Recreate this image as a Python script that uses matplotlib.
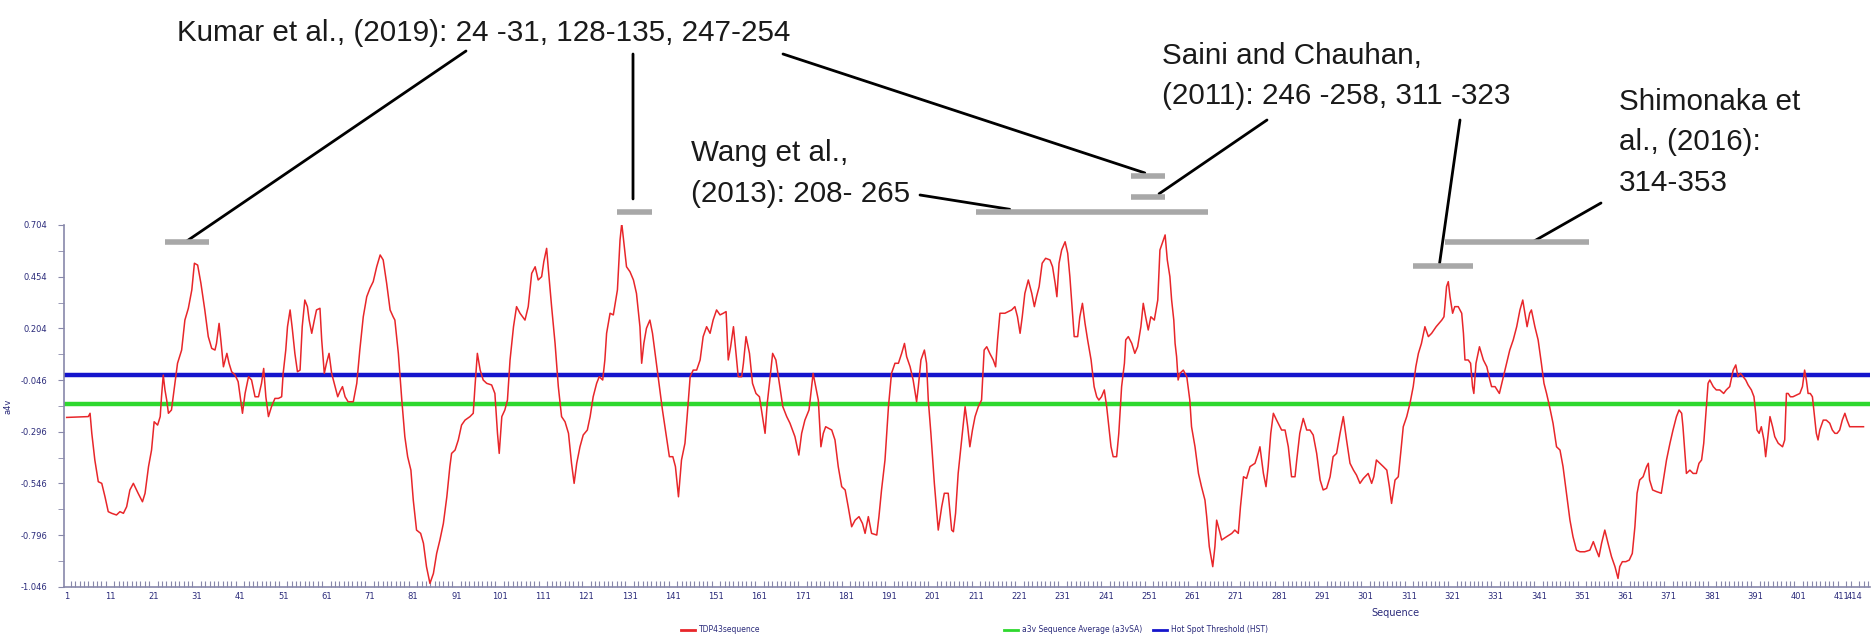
import matplotlib
matplotlib.use("Agg")
import matplotlib.pyplot as plt
import numpy as np

# ---------------- data ----------------
position = [
    1.0, 6.0, 6.4, 6.8, 7.5, 8.3, 9.1, 9.85, 10.6, 11.4, 12.5, 13.3, 14.1, 14.85, 15.6, 16.4, 17.5, 18.5, 19.1, 19.9,
    20.6, 21.2, 22.0, 22.6, 22.9, 23.3, 23.7, 24.1, 24.5, 25.2, 25.9, 26.6, 27.55, 28.3, 29.1, 29.9, 30.5, 31.25, 32.0, 32.9,
    33.7, 34.5, 35.25, 35.6, 36.2, 36.6, 37.2, 38.0, 38.5, 39.1, 39.9, 40.6, 41.3, 41.6, 42.2, 43.0, 43.7, 44.5, 45.3, 46.0,
    46.5, 47.0, 47.6, 48.3, 49.1, 49.9, 50.65, 51.0, 51.6, 52.0, 52.6, 53.1, 53.7, 54.3, 54.9, 55.4, 56.0, 56.6, 57.0, 57.6,
    58.2, 58.7, 59.5, 59.9, 60.5, 61.0, 61.6, 62.2, 63.0, 63.6, 64.1, 64.7, 65.3, 66.0, 67.2, 68.0, 68.7, 69.5, 70.3, 71.05,
    71.8, 72.6, 73.4, 74.1, 74.9, 75.7, 76.4, 76.8, 77.6, 78.4, 79.1, 79.75, 80.5, 81.05, 81.8, 82.75, 83.4, 84.1, 84.9,
    85.7, 86.45, 87.2, 88.0, 88.8, 89.5, 89.9, 90.7, 91.45, 92.2, 93.0, 94.15, 94.9, 95.3, 95.85, 96.5, 97.2, 98.0, 99.15, 99.9,
    100.5, 100.9, 101.5, 102.2, 102.8, 103.4, 104.2, 104.9, 105.7, 106.85, 107.6, 108.4, 109.2, 109.9, 110.7, 111.2, 111.85, 112.2, 113.0, 113.8,
    114.55, 115.3, 116.1, 116.9, 117.6, 118.2, 118.8, 119.55, 120.3, 121.25, 121.9, 122.6, 123.4, 124.0, 124.8, 125.3, 125.7, 126.5, 127.25, 128.2,
    128.8, 129.2, 129.7, 130.3, 131.1, 131.9, 132.6, 133.4, 133.8, 134.3, 134.9, 135.7, 136.3, 137.1, 137.9, 138.6, 139.4, 140.2, 141.0, 141.6,
    142.3, 143.0, 143.8, 144.3, 145.0, 145.7, 146.5, 147.3, 148.0, 148.8, 149.6, 150.3, 151.1, 151.9, 152.65, 153.3, 153.8, 154.35, 155.0, 155.6,
    156.1, 156.9, 157.3, 157.9, 158.7, 159.4, 160.2, 161.0, 161.7, 162.3, 162.8, 163.4, 164.05, 164.8, 165.6, 166.4, 167.3, 168.05, 169.2,
    170.1, 170.75, 171.5, 172.45, 173.4, 174.0, 174.6, 175.2, 175.75, 176.3, 177.7, 178.45, 179.2, 180.0, 180.8, 181.5, 182.3, 183.1, 184.0, 184.8,
    185.4, 186.15, 186.9, 188.1, 188.6, 189.2, 190.0, 190.8, 191.5, 192.3, 193.1, 193.85, 194.5, 195.0, 195.8, 196.5, 197.3, 197.7, 198.3, 199.1,
    199.6, 200.0, 200.6, 201.4, 202.3, 203.1, 203.7, 204.6, 205.4, 205.8, 206.3, 206.9, 207.7, 208.5, 209.1, 209.6, 210.2, 210.8, 211.55, 212.3,
    212.9, 213.5, 214.2, 215.0, 215.55, 216.0, 216.55, 217.7, 219.25, 220.0, 220.6, 221.2, 221.7, 222.3, 223.1, 223.9, 224.5, 225.0, 225.6, 226.3,
    227.1, 228.1, 228.7, 229.3, 229.7, 230.2, 230.8, 231.6, 232.2, 232.7, 233.3, 233.7, 234.5, 235.0, 235.6, 236.2, 236.8, 237.6, 238.3, 238.9,
    239.4, 240.0, 240.65, 241.2, 241.7, 242.2, 242.7, 243.5, 244.0, 244.65, 245.3, 245.6, 246.2, 247.0, 247.7, 248.35, 249.1, 249.65, 250.2, 250.8,
    251.4, 252.2, 253.0, 253.5, 254.3, 254.7, 255.2, 255.8, 256.2, 256.7, 257.0, 257.35, 257.7, 258.1, 258.9, 259.7, 260.4, 260.8, 261.6, 262.4,
    263.1, 263.9, 264.3, 264.9, 265.7, 266.2, 266.6, 267.4, 267.75, 268.9, 270.1, 270.8, 271.6, 272.1, 272.8, 273.5, 274.3, 275.45, 276.2, 276.6,
    277.4, 278.0, 278.5, 279.1, 279.7, 280.45, 281.6, 282.4, 283.15, 283.9, 284.7, 285.1, 285.8, 286.6, 287.4, 288.15, 288.9, 289.7, 290.5, 291.2,
    292.0, 292.8, 293.5, 294.3, 295.1, 295.85, 296.6, 297.4, 298.2, 298.9, 299.7, 300.5, 301.6, 302.4, 302.9, 303.5, 304.3, 305.1, 305.9, 306.5,
    307.0, 307.8, 308.55, 309.1, 309.7, 310.5, 311.25, 312.0, 312.6, 313.2, 313.9, 314.7, 315.5, 316.25, 317.3, 318.6, 319.1, 319.7, 320.1, 320.5,
    321.1, 321.6, 322.4, 323.2, 323.6, 323.95, 324.7, 325.25, 325.7, 326.0, 326.5, 327.3, 328.2, 329.0, 329.7, 330.1, 330.9, 331.9, 332.65, 333.4,
    334.3, 335.1, 335.9, 336.65, 337.3, 337.8, 338.3, 338.9, 339.3, 340.1, 340.85, 341.6, 342.2, 342.8, 343.5, 344.3, 345.1, 345.9, 346.6, 347.4,
    348.2, 348.9, 349.7, 350.5, 351.6, 352.8, 353.6, 354.3, 354.9, 355.5, 356.25, 357.0, 357.8, 358.6, 359.3, 359.7, 360.3, 361.1, 361.9, 362.6,
    363.2, 363.7, 364.3, 365.1, 365.9, 366.3, 366.6, 367.3, 368.2, 369.3, 369.9, 370.5, 371.3, 372.0, 372.8, 373.4, 374.0, 374.3, 374.7, 375.1,
    375.9, 376.65, 377.4, 378.0, 378.6, 379.1, 379.6, 380.1, 380.5, 381.3, 382.0, 382.8, 383.7, 384.3, 385.1, 385.9, 386.5, 387.0, 387.6, 388.2,
    388.8, 389.35, 390.1, 390.7, 391.1, 391.4, 391.9, 392.4, 393.0, 393.4, 394.0, 394.4, 395.0, 395.5, 396.3, 397.3, 397.8, 398.2, 398.6, 399.1,
    399.7, 400.5, 401.3, 401.9, 402.4, 402.8, 403.2, 403.7, 404.2, 404.7, 405.1, 405.5, 405.9, 406.7, 407.4, 408.2, 408.8, 409.4, 409.9, 410.5,
    411.1, 411.7, 412.2, 412.8, 416.0,
]
a4v = [
    -0.227, -0.223, -0.207, -0.304, -0.433, -0.538, -0.546, -0.611, -0.683, -0.691, -0.699, -0.683, -0.691, -0.659, -0.578, -0.546, -0.594, -0.635, -0.594, -0.465,
    -0.385, -0.248, -0.264, -0.223, -0.127, -0.022, -0.094, -0.143, -0.207, -0.191, -0.078, 0.035, 0.099, 0.244, 0.301, 0.390, 0.519, 0.510, 0.422, 0.293,
    0.164, 0.107, 0.099, 0.131, 0.228, 0.148, 0.018, 0.083, 0.035, -0.006, -0.022, -0.054, -0.159, -0.207, -0.111, -0.030, -0.046, -0.127, -0.127, -0.062,
    0.010, -0.127, -0.223, -0.175, -0.135, -0.135, -0.127, -0.014, 0.099, 0.212, 0.293, 0.204, 0.083, -0.006, 0.002, 0.212, 0.341, 0.309, 0.244, 0.180,
    0.244, 0.293, 0.301, 0.148, -0.014, 0.035, 0.083, -0.014, -0.078, -0.127, -0.102, -0.078, -0.127, -0.151, -0.151, -0.062, 0.099, 0.260, 0.357, 0.398,
    0.430, 0.502, 0.559, 0.535, 0.422, 0.293, 0.260, 0.244, 0.083, -0.143, -0.320, -0.417, -0.482, -0.627, -0.772, -0.788, -0.836, -0.949, -1.030,
    -0.982, -0.885, -0.820, -0.740, -0.611, -0.465, -0.401, -0.385, -0.336, -0.264, -0.240, -0.223, -0.207, -0.078, 0.083, 0.002, -0.046, -0.062, -0.070, -0.111,
    -0.304, -0.401, -0.223, -0.191, -0.143, 0.051, 0.212, 0.309, 0.277, 0.244, 0.309, 0.470, 0.502, 0.438, 0.454, 0.527, 0.591, 0.502, 0.309, 0.131,
    -0.078, -0.223, -0.248, -0.304, -0.449, -0.546, -0.449, -0.369, -0.312, -0.288, -0.223, -0.127, -0.062, -0.030, -0.046, 0.051, 0.180, 0.277, 0.269, 0.390,
    0.631, 0.712, 0.615, 0.502, 0.478, 0.438, 0.373, 0.212, 0.035, 0.131, 0.204, 0.244, 0.180, 0.051, -0.078, -0.191, -0.304, -0.417, -0.417, -0.465,
    -0.611, -0.433, -0.352, -0.223, -0.030, 0.002, 0.002, 0.051, 0.164, 0.212, 0.180, 0.244, 0.293, 0.269, 0.277, 0.285, 0.051, 0.115, 0.212, 0.083,
    -0.030, -0.030, 0.035, 0.164, 0.083, -0.062, -0.111, -0.127, -0.223, -0.304, -0.159, -0.046, 0.083, 0.051, -0.062, -0.175, -0.223, -0.255, -0.320,
    -0.409, -0.304, -0.240, -0.191, -0.014, -0.078, -0.143, -0.369, -0.304, -0.272, -0.288, -0.336, -0.465, -0.562, -0.578, -0.659, -0.756, -0.724, -0.707, -0.740,
    -0.788, -0.707, -0.788, -0.796, -0.707, -0.578, -0.433, -0.175, -0.014, 0.035, 0.035, 0.083, 0.131, 0.067, 0.018, -0.046, -0.151, -0.078, 0.051, 0.099,
    0.035, -0.143, -0.304, -0.546, -0.772, -0.659, -0.594, -0.594, -0.772, -0.780, -0.691, -0.498, -0.336, -0.175, -0.272, -0.369, -0.288, -0.223, -0.175, -0.143,
    0.099, 0.115, 0.083, 0.051, 0.018, 0.148, 0.277, 0.277, 0.293, 0.309, 0.260, 0.180, 0.260, 0.373, 0.438, 0.373, 0.309, 0.357, 0.406, 0.519,
    0.543, 0.535, 0.502, 0.422, 0.357, 0.519, 0.583, 0.623, 0.567, 0.454, 0.277, 0.164, 0.164, 0.260, 0.325, 0.228, 0.148, 0.051, -0.078, -0.127,
    -0.143, -0.127, -0.094, -0.175, -0.272, -0.369, -0.417, -0.417, -0.304, -0.078, 0.035, 0.148, 0.164, 0.131, 0.083, 0.115, 0.212, 0.325, 0.260, 0.196,
    0.260, 0.244, 0.341, 0.583, 0.631, 0.656, 0.535, 0.454, 0.341, 0.244, 0.131, 0.067, -0.046, -0.014, 0.002, -0.030, -0.143, -0.272, -0.369, -0.498,
    -0.562, -0.627, -0.707, -0.852, -0.949, -0.852, -0.724, -0.788, -0.820, -0.804, -0.788, -0.772, -0.788, -0.659, -0.514, -0.522, -0.465, -0.449, -0.401, -0.369,
    -0.498, -0.562, -0.465, -0.304, -0.207, -0.240, -0.288, -0.288, -0.369, -0.514, -0.514, -0.433, -0.304, -0.232, -0.288, -0.288, -0.312, -0.401, -0.530, -0.578,
    -0.570, -0.514, -0.417, -0.401, -0.304, -0.223, -0.336, -0.449, -0.482, -0.506, -0.546, -0.522, -0.498, -0.546, -0.514, -0.433, -0.449, -0.465, -0.482, -0.562,
    -0.643, -0.530, -0.514, -0.401, -0.272, -0.223, -0.159, -0.078, 0.018, 0.083, 0.131, 0.212, 0.164, 0.180, 0.212, 0.244, 0.260, 0.406, 0.430, 0.357,
    0.277, 0.309, 0.309, 0.277, 0.180, 0.051, 0.051, 0.035, -0.078, -0.111, 0.035, 0.115, 0.051, 0.018, -0.046, -0.078, -0.078, -0.111, -0.046, 0.018,
    0.099, 0.148, 0.212, 0.293, 0.341, 0.277, 0.212, 0.277, 0.293, 0.212, 0.148, 0.035, -0.062, -0.111, -0.175, -0.256, -0.369, -0.385, -0.465, -0.594,
    -0.724, -0.804, -0.869, -0.877, -0.877, -0.869, -0.828, -0.869, -0.901, -0.836, -0.772, -0.836, -0.901, -0.949, -1.006, -0.949, -0.925, -0.925, -0.917, -0.885,
    -0.756, -0.594, -0.530, -0.514, -0.465, -0.449, -0.530, -0.578, -0.586, -0.594, -0.514, -0.433, -0.352, -0.288, -0.223, -0.191, -0.207, -0.272, -0.385, -0.498,
    -0.482, -0.498, -0.498, -0.449, -0.433, -0.352, -0.207, -0.062, -0.046, -0.078, -0.094, -0.094, -0.111, -0.094, -0.078, 0.002, 0.027, -0.030, -0.014, -0.030,
    -0.046, -0.070, -0.094, -0.127, -0.207, -0.288, -0.304, -0.272, -0.336, -0.417, -0.304, -0.223, -0.272, -0.320, -0.352, -0.369, -0.336, -0.111, -0.111, -0.127,
    -0.127, -0.119, -0.111, -0.078, 0.002, -0.046, -0.111, -0.111, -0.127, -0.223, -0.304, -0.336, -0.288, -0.240, -0.240, -0.255, -0.288, -0.304, -0.304, -0.288,
    -0.240, -0.207, -0.240, -0.272, -0.272,
]
sequence_average = -0.162      # a3vSA
hot_spot_threshold = -0.02     # HST

y_ticks = [0.704, 0.454, 0.204, -0.046, -0.296, -0.546, -0.796, -1.046]
x_ticks = [1] + list(range(11, 412, 10)) + [414]

# literature regions: (start, end, level)
bar_start = [23.8, 128.0, 246.8, 246.8, 211.0, 312.0, 319.3]
bar_end = [33.9, 136.2, 254.7, 254.7, 264.5, 325.9, 352.6]
bar_level = [0.620, 0.768, 0.943, 0.839, 0.768, 0.506, 0.620]

# ---------------- figure ----------------
W, H = 1874, 640
fig = plt.figure(figsize=(W / 100, H / 100), dpi=100)
ax_l, ax_r, ax_t, ax_b = 64, 1870, 225, 586.7
ax = fig.add_axes([ax_l / W, 1 - ax_b / H, (ax_r - ax_l) / W, (ax_b - ax_t) / H])
ax.set_xlim(0.38, 417.5)
ax.set_ylim(-1.046, 0.704)

axis_col = "#8888aa"
lab_col = "#2a2a7a"
ax.axhline(hot_spot_threshold, color="#1515cc", lw=3.2, zorder=2)
ax.axhline(sequence_average, color="#2ed82e", lw=3.2, zorder=2)
ax.plot(position, a4v, color="#e8262a", lw=1.1, zorder=3)

for s in ["top", "right"]:
    ax.spines[s].set_visible(False)
for s in ["left", "bottom"]:
    ax.spines[s].set_color(axis_col)
    ax.spines[s].set_linewidth(1.2)

ax.set_yticks(y_ticks)
ax.set_yticklabels([f"{v:.3f}" for v in y_ticks])
ax.set_yticks(np.arange(0.704, -1.05, -0.125), minor=True)
ax.set_xticks(x_ticks)
ax.set_xticklabels([str(v) for v in x_ticks])
ax.set_xticks(np.arange(1, 418, 1), minor=True)
ax.tick_params(axis="y", which="both", direction="out", length=4, color=axis_col,
               labelsize=6, labelcolor=lab_col, pad=8)
ax.tick_params(axis="x", which="major", direction="in", length=0, color=axis_col,
               labelsize=6, labelcolor=lab_col, pad=4)
ax.tick_params(axis="x", which="minor", direction="in", length=4, width=0.8, color=axis_col)
ax.set_ylabel("a4v", fontsize=6, color=lab_col, labelpad=6)
ax.text(1395, 640 - 613, "Sequence", transform=None, fontsize=7, color=lab_col,
        ha="center", va="center")

# legend at the bottom
leg_y = 640 - 630
leg_items = [(681, "#e8262a", "TDP43sequence"),
             (1004, "#2ed82e", "a3v Sequence Average (a3vSA)"),
             (1153, "#1515cc", "Hot Spot Threshold (HST)")]
for lx, c, t in leg_items:
    fig.add_artist(plt.Line2D([lx, lx + 14], [leg_y, leg_y], transform=None, color=c, lw=2))
    fig.text((lx + 18) / W, leg_y / H, t, fontsize=5.5, color=lab_col, va="center")

# literature bars
for s, e, lv in zip(bar_start, bar_end, bar_level):
    ax.plot([s, e], [lv, lv], color="#a8a8a8", lw=4, solid_capstyle="butt",
            clip_on=False, zorder=4)

afont = dict(family="Liberation Sans", fontsize=21.3, color="#1a1a1a")


def leader(px, py, x, y):
    ax.annotate("", xy=(x, y), xycoords="data", xytext=(px, H - py),
                textcoords="figure pixels", annotation_clip=False,
                arrowprops=dict(arrowstyle="-", lw=2, color="black", shrinkA=0, shrinkB=0))


fig.text(177 / W, 1 - 33 / H, "Kumar et al., (2019): 24 -31, 128-135, 247-254", va="center", **afont)
leader(466, 51, 28.3, 0.620)
leader(633, 54, 131.8, 0.830)
leader(783, 54, 250.0, 0.956)

fig.text(691 / W, 1 - 153 / H, "Wang et al.,", va="center", **afont)
fig.text(691 / W, 1 - 194 / H, "(2013): 208- 265", va="center", **afont)
leader(920, 195, 218.8, 0.780)

fig.text(1162 / W, 1 - 56 / H, "Saini and Chauhan,", va="center", **afont)
fig.text(1162 / W, 1 - 96 / H, "(2011): 246 -258, 311 -323", va="center", **afont)
leader(1267, 120, 253.3, 0.855)
leader(1460, 120, 318.1, 0.52)

fig.text(1619 / W, 1 - 102 / H, "Shimonaka et", va="center", **afont)
fig.text(1619 / W, 1 - 142 / H, "al., (2016):", va="center", **afont)
fig.text(1619 / W, 1 - 183 / H, "314-353", va="center", **afont)
leader(1601, 203, 339.4, 0.620)

fig.savefig("out.png", dpi=100)
